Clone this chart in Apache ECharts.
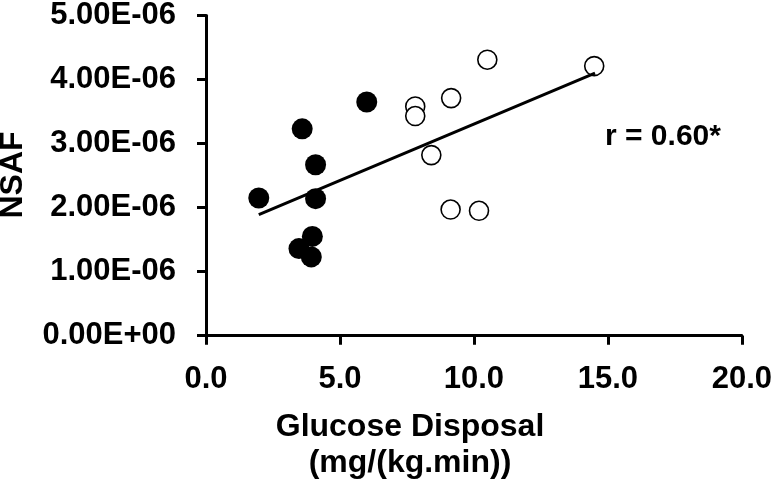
<!DOCTYPE html>
<html><head><meta charset="utf-8">
<script src="https://cdn.jsdelivr.net/npm/echarts@6/dist/echarts.min.js"></script>
<style>html,body{margin:0;padding:0;background:#fff}#c{width:775px;height:493px}</style>
</head><body><div id="c"></div>
<script>
// Tick labels
const xTickLabels = ['0.0', '5.0', '10.0', '15.0', '20.0'];
const yTickLabels = ['0.00E+00', '1.00E-06', '2.00E-06', '3.00E-06', '4.00E-06', '5.00E-06'];
// Filled circles
const filledX = [1.97, 3.47, 3.59, 3.93, 3.97, 4.09, 4.09, 6.0];
const filledY = [2.15e-6, 1.36e-6, 3.23e-6, 1.23e-6, 1.55e-6, 2.14e-6, 2.67e-6, 3.65e-6];
// Open circles
const openX = [7.81, 7.81, 8.41, 9.15, 9.13, 10.19, 10.5, 14.49];
const openY = [3.58e-6, 3.43e-6, 2.82e-6, 3.71e-6, 1.97e-6, 1.95e-6, 4.31e-6, 4.21e-6];
// Regression line endpoints
const trendX = [1.97, 14.52];
const trendY = [1.89e-6, 4.10e-6];
const annotation = 'r = 0.60*';
const xTitle = ['Glucose Disposal', '(mg/(kg.min))'];
const yTitle = 'NSAF';

const zip = (a, b) => a.map((v, i) => [v, b[i]]);
const FONT = '"Liberation Sans", Arial, sans-serif';
const chart = echarts.init(document.getElementById('c'), null, {renderer: 'canvas'});
chart.setOption({
  animation: false,
  backgroundColor: '#fff',
  grid: {left: 206, right: 31, top: 11.7, bottom: 157.3, containLabel: false},
  xAxis: {
    type: 'value', min: 0, max: 20, interval: 5,
    axisLine: {show: true, lineStyle: {color: '#000', width: 3}},
    axisTick: {show: true, length: 9, lineStyle: {color: '#000', width: 3}},
    axisLabel: {color: '#000', fontFamily: FONT, fontWeight: 'bold', fontSize: 31, margin: 28,
      formatter: v => xTickLabels[Math.round(v / 5)]},
    splitLine: {show: false}
  },
  yAxis: {
    type: 'value', min: 0, max: 5e-6, interval: 1e-6,
    axisLine: {show: true, lineStyle: {color: '#000', width: 3}},
    axisTick: {show: true, length: 9, lineStyle: {color: '#000', width: 3}},
    axisLabel: {color: '#000', fontFamily: FONT, fontWeight: 'bold', fontSize: 31, margin: 30,
      formatter: v => yTickLabels[Math.round(v / 1e-6)]},
    splitLine: {show: false}
  },
  graphic: [
    {type: 'text', left: 605, top: 122, style: {text: annotation, fill: '#000', font: 'bold 30px ' + FONT}},
    {type: 'text', x: 410, y: 427, style: {text: xTitle[0], fill: '#000', font: 'bold 32px ' + FONT, textAlign: 'center', textVerticalAlign: 'middle'}},
    {type: 'text', x: 410, y: 463, style: {text: xTitle[1], fill: '#000', font: 'bold 32px ' + FONT, textAlign: 'center', textVerticalAlign: 'middle'}},
    {type: 'text', x: 13, y: 175, rotation: Math.PI / 2, style: {text: yTitle, fill: '#000', font: 'bold 32px ' + FONT, textAlign: 'center', textVerticalAlign: 'middle'}}
  ],
  series: [
    {type: 'scatter', data: zip(openX, openY), symbol: 'circle', symbolSize: 19, z: 2,
      itemStyle: {color: '#fff', borderColor: '#000', borderWidth: 1.6, opacity: 1}},
    {type: 'scatter', data: zip(filledX, filledY), symbol: 'circle', symbolSize: 21, z: 3,
      itemStyle: {color: '#000', opacity: 1}},
    {type: 'line', data: zip(trendX, trendY), showSymbol: false, symbol: 'none', z: 4,
      lineStyle: {color: '#000', width: 3}}
  ]
});
</script>
</body></html>
